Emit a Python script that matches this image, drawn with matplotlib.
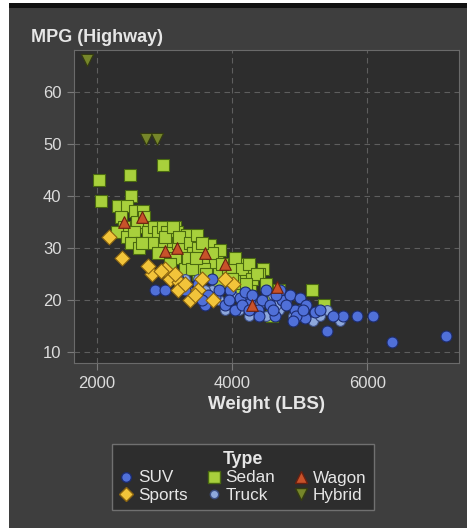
import matplotlib
matplotlib.use('Agg')
import matplotlib.pyplot as plt
from matplotlib.lines import Line2D
from matplotlib.patches import Rectangle

plt.rcParams['font.family'] = ['Liberation Sans', 'DejaVu Sans']

# (weight, mpg highway), one list per type
sedan_w = [2035, 2490, 2060, 2500, 2980,
           2310, 2440, 2560, 2680, 2370, 2680, 2350, 2400, 2600, 2700, 2300, 2450, 2550, 2650, 2750,
           2500, 2800, 2850, 2900, 2620,
           2978, 3155, 3037, 3185, 3333, 3100, 3250, 2950, 3050, 3200, 3300, 2815, 2667, 3274, 3150,
           3000, 3120, 3220, 3380, 3420, 2900, 3080,
           3481, 3422, 3674, 3778, 3703, 3496, 3304, 3822, 3550, 3600, 3450, 3650, 3750, 3500, 3350,
           3700, 3580, 3800, 3400, 3550, 3620, 3470,
           4148, 3941, 4341, 4459, 4266, 3900, 4000, 4050, 4100, 4200, 3850, 3950, 4150, 4300, 4400,
           4000, 4250, 4370, 4500, 3900, 4100, 4200,
           4593, 4266, 5185, 5363, 4600, 4700, 3800, 4050]
sedan_mpg = [43, 44, 39, 40, 46,
             38, 38, 37, 37, 33, 34, 36, 34, 35, 36, 33, 32, 33, 31, 33,
             31, 31, 34, 33, 30,
             34, 34, 33, 33, 32.5, 31, 30, 30, 29, 31, 29, 31, 31, 30, 28,
             32, 34, 32, 31, 29, 29, 27,
             32.5, 29, 30.6, 28, 26, 25, 26, 29.6, 29, 27, 27, 28, 27, 30, 28,
             29, 26, 25, 26, 31, 25, 28,
             27, 25, 25, 26, 23, 27, 26, 28, 24, 25, 27, 24, 26, 24, 25,
             24, 27, 25, 23, 23, 22, 23,
             17, 20, 22, 19, 21, 22, 23, 21]

suv_w = [2859, 3007, 3378, 3600, 4118, 4266, 4444, 4563, 4740, 4859, 5007, 4385, 4637, 4933,
         5081, 5230, 5407, 5644, 5850, 6088, 6370, 7170, 3970, 3748, 3896, 4044, 4192, 4711,
         3300, 3500, 3650, 3800, 4300, 4500, 4800, 5100, 5300, 4950, 4150, 3550, 4650, 4400,
         5500, 3200, 3700, 3950, 4250, 4600, 4900, 5050]
suv_mpg = [22, 22, 21.5, 19, 20.4, 19.4, 20, 19, 20, 21, 20.4, 18, 17, 18,
           16.5, 17.7, 14, 17, 17, 17, 12, 13, 22, 20.6, 19, 18, 21.5, 22,
           22, 23, 21, 22, 21, 22, 19, 19, 18, 17, 19, 20, 21, 17,
           17, 24, 24, 20, 18, 18, 16, 18]

truck_w = [3800, 4000, 4300, 4500, 4700, 5000, 5200, 3500, 3700, 4100, 5400, 4800,
           4600, 3300, 3900, 4200, 5600, 4400, 5000, 3600, 4900, 4250, 5300, 4650]
truck_mpg = [20, 21, 19, 17, 18, 17, 16, 24, 22, 18, 18, 20,
             21, 24, 18, 20, 16, 19, 18, 22, 17, 17, 17, 19]

sports_w = [2178, 2370, 2815, 3007, 3081, 3215, 3200, 3378, 4015, 3718, 2950, 3150,
            3300, 3500, 3550, 3900, 3450, 2750]
sports_mpg = [32, 28, 25, 26, 24, 23.5, 22, 20, 23, 20, 25.5, 25,
              23, 22, 24, 24, 21, 26.5]

wagon_w = [2667, 2400, 3007, 3185, 3600, 4666, 4296, 3900]
wagon_mpg = [36, 35, 29.5, 30, 29, 22.5, 19, 27]

hybrid_w = [1850, 2732, 2890]
hybrid_mpg = [66, 51, 51]

x_ticks = [2000, 4000, 6000]
y_ticks = [10, 20, 30, 40, 50, 60]

fig = plt.figure(figsize=(4.67, 5.28), dpi=100, facecolor='white')
fig.patches.append(Rectangle((9 / 467, 0), 458 / 467, 520 / 528, transform=fig.transFigure,
                             facecolor='#3e3e3e', edgecolor='none', zorder=-2))
fig.patches.append(Rectangle((9 / 467, 520 / 528), 458 / 467, 5 / 528, transform=fig.transFigure,
                             facecolor='#111111', edgecolor='none', zorder=-1))

ax = fig.add_axes([74 / 467, 1 - 363 / 528, 385 / 467, 313 / 528])
ax.set_facecolor('#2d2d2d')

styles = [
    ('Sedan', sedan_w, sedan_mpg, 's', 76, '#a8d03c', '#4a6a10'),
    ('Truck', truck_w, truck_mpg, 'o', 50, '#8ea8dc', '#3a4c80'),
    ('SUV', suv_w, suv_mpg, 'o', 62, '#5070d8', '#1c2c70'),
    ('Sports', sports_w, sports_mpg, 'D', 58, '#f2c43a', '#8a6410'),
    ('Wagon', wagon_w, wagon_mpg, '^', 70, '#c8522a', '#6a2010'),
    ('Hybrid', hybrid_w, hybrid_mpg, 'v', 76, '#76862a', '#343c10'),
]
for name, xs, ys, mk, sz, fc, ec in styles:
    ax.scatter(xs, ys, marker=mk, s=sz, facecolor=fc, edgecolor=ec, linewidth=0.8, zorder=3)

ax.set_xlim(1660, 7360)
ax.set_ylim(7.9, 68)
ax.set_xticks(x_ticks)
ax.set_yticks(y_ticks)
ax.grid(True, color='#5e5e5e', linestyle=(0, (5, 4)), linewidth=0.8, zorder=0)
ax.tick_params(colors='#7a7a7a', labelcolor='#dcdcdc', labelsize=12, length=5, pad=4)
for sp in ax.spines.values():
    sp.set_color('#6a6a6a')

ax.set_xlabel('Weight (LBS)', color='#e6e6e6', fontsize=13.5, fontweight='bold', labelpad=4)
fig.text(31 / 467, 1 - 37 / 528, 'MPG (Highway)', color='#e6e6e6', fontsize=13,
         fontweight='bold', va='center', ha='left')

# legend, row-wise SUV Sedan Wagon / Sports Truck Hybrid
leg_items = {
    'SUV': ('o', '#5070d8', '#1c2c70', 7),
    'Sports': ('D', '#f2c43a', '#8a6410', 7),
    'Sedan': ('s', '#a8d03c', '#4a6a10', 8),
    'Truck': ('o', '#8ea8dc', '#3a4c80', 6),
    'Wagon': ('^', '#c8522a', '#6a2010', 8),
    'Hybrid': ('v', '#76862a', '#343c10', 8),
}
handles = [Line2D([], [], linestyle='none', marker=m, markersize=ms, markerfacecolor=fc,
                  markeredgecolor=ec, label=k) for k, (m, fc, ec, ms) in leg_items.items()]
leg = fig.legend(handles=handles, ncol=3, title='Type', loc='center',
                 bbox_to_anchor=(243 / 467, 1 - 477 / 528), fontsize=12.3,
                 title_fontproperties={'weight': 'bold', 'size': 12.8},
                 facecolor='#2d2d2d', edgecolor='#707070', framealpha=1, fancybox=False,
                 handlelength=0.8, handletextpad=0.3, columnspacing=1.1,
                 borderpad=0.45, labelspacing=0.12)
leg.get_title().set_color('#e6e6e6')
for t in leg.get_texts():
    t.set_color('#e6e6e6')

fig.savefig('out.png', dpi=100, facecolor=fig.get_facecolor())
